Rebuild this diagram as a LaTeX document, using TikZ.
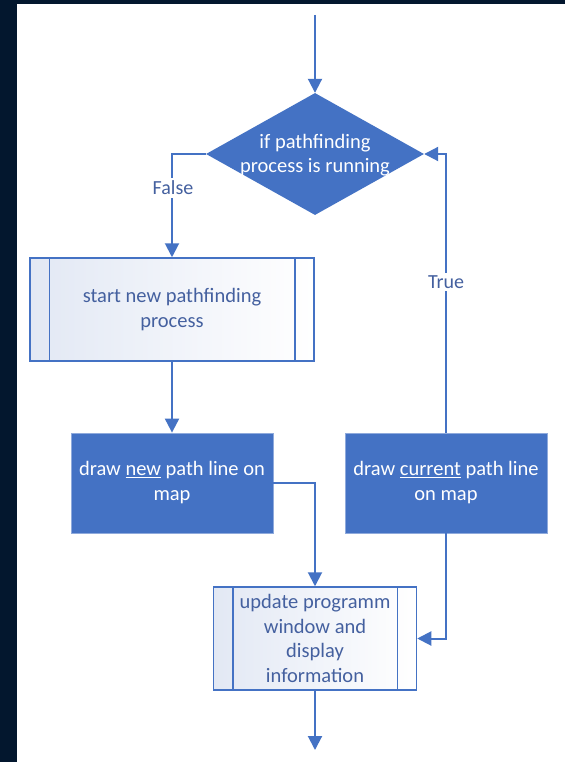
\documentclass[tikz,border=0pt]{standalone}
\usepackage{fontspec}
\setmainfont{Carlito}
\usetikzlibrary{shapes.geometric,arrows.meta}
\definecolor{obl}{HTML}{4472C4}
\definecolor{otx}{HTML}{44609F}
\definecolor{odark}{HTML}{03172E}
\definecolor{oshade}{HTML}{E2E8F4}
\tikzset{
  conn/.style={draw=obl, line width=2pt, -{Triangle[width=14pt,length=14pt]}},
  darkbox/.style={rectangle, fill=obl, draw=obl!60!white, line width=0.8pt, text=white,
    minimum width=202pt, minimum height=100pt, align=center, font=\fontsize{20.5}{25}\selectfont, inner sep=0pt},
  procbox/.style={rectangle, draw=obl, line width=1.5pt, left color=oshade, right color=white,
    text=otx, align=center, font=\fontsize{20.5}{24.5}\selectfont, inner sep=0pt},
  lbl/.style={text=otx, fill=white, font=\fontsize{20}{22}\selectfont, inner sep=3pt}
}
\begin{document}
\begin{tikzpicture}[x=1pt,y=-1pt]
\useasboundingbox (0,0) rectangle (565,762);
\fill[white] (0,0) rectangle (565,762);
\fill[odark] (0,0) rectangle (565,4);
\fill[odark] (0,0) rectangle (17,762);

\coordinate (start) at (315,15);
\coordinate (stop) at (315,750);

\node[diamond, fill=obl, minimum width=218pt, minimum height=122pt, inner sep=0pt] (dec) at (315,154) {};
\node[text=white, align=center, font=\fontsize{20.5}{24.5}\selectfont] (dectext) at (315,155) {if pathfinding\\process is running};

\node[procbox, minimum width=284pt, minimum height=103pt] (p1) at (172,309.5) {start new pathfinding\\process};
\draw[draw=obl, line width=1.5pt] ([xshift=20pt]p1.north west) -- ([xshift=20pt]p1.south west)
  ([xshift=-20pt]p1.north east) -- ([xshift=-20pt]p1.south east);

\node[darkbox] (d1) at (172,483) {draw \underline{new} path line on\\map};
\node[darkbox] (d2) at (446,483) {draw \underline{current} path line\\on map};

\node[procbox, minimum width=203pt, minimum height=103pt] (u) at (315,638.5) {update programm\\window and\\display\\information};
\draw[draw=obl, line width=1.5pt] ([xshift=20pt]u.north west) -- ([xshift=20pt]u.south west)
  ([xshift=-20pt]u.north east) -- ([xshift=-20pt]u.south east);

\draw[conn] (start) -- (dec.north);
\draw[conn] (dec.west) -| (p1.north);
\draw[conn] (d2.north) |- (dec.east);
\draw[conn] (p1.south) -- (d1.north);
\draw[conn] (d1.east) -| (u.north);
\draw[conn] (d2.south) |- (u.east);
\draw[conn] (u.south) -- (stop);

\node[lbl] (lf) at (173,188) {False};
\node[lbl] (lt) at (446,282) {True};
\end{tikzpicture}
\end{document}
